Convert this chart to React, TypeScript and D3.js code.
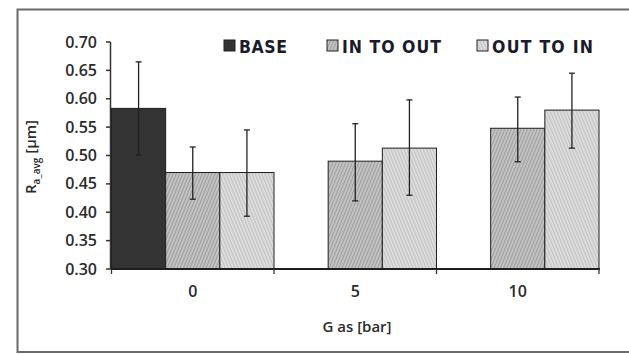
import React from "react";
import { scaleBand, scaleLinear, range } from "d3";

const categories = ["0", "5", "10"];
const seriesNames = ["BASE", "IN TO OUT", "OUT TO IN"];

const baseValues = [0.583, 0.3, 0.3];
const baseLow = [0.501, null, null];
const baseHigh = [0.665, null, null];

const inToOutValues = [0.47, 0.49, 0.548];
const inToOutLow = [0.423, 0.42, 0.489];
const inToOutHigh = [0.515, 0.556, 0.603];

const outToInValues = [0.47, 0.513, 0.58];
const outToInLow = [0.393, 0.43, 0.513];
const outToInHigh = [0.545, 0.598, 0.645];

const yTicks = [0.3, 0.35, 0.4, 0.45, 0.5, 0.55, 0.6, 0.65, 0.7];

const fills = ["#333333", "url(#hatchIn)", "url(#hatchOut)"];
const legendX = [224, 327, 477];
const legendWidths = [48, 99, 101];

const W = 629;
const H = 354;

const App = () => {
  const y = scaleLinear().domain([0.3, 0.7]).range([269, 42]);
  const x = scaleBand().domain(categories).range([111.5, 599]).padding(0);
  const xs = scaleBand()
    .domain(seriesNames)
    .range([0, x.bandwidth()])
    .padding(0);

  const values = [baseValues, inToOutValues, outToInValues];
  const lows = [baseLow, inToOutLow, outToInLow];
  const highs = [baseHigh, inToOutHigh, outToInHigh];

  const font = "'Open Sans', 'DejaVu Sans', sans-serif";
  const legendFont = "'DejaVu Sans Condensed', 'DejaVu Sans', sans-serif";

  return (
    <svg
      width={W}
      height={H}
      style={{ position: "absolute", left: 0, top: 0, background: "#fff" }}
    >
      <defs>
        <pattern
          id="hatchIn"
          width="3"
          height="3"
          patternUnits="userSpaceOnUse"
          patternTransform="rotate(22)"
        >
          <rect width="3" height="3" fill="#c2c2c2" />
          <line x1="0" y1="0" x2="0" y2="3" stroke="#868686" strokeWidth="1.2" />
        </pattern>
        <pattern
          id="hatchOut"
          width="3"
          height="3"
          patternUnits="userSpaceOnUse"
          patternTransform="rotate(-22)"
        >
          <rect width="3" height="3" fill="#dcdcdc" />
          <line x1="0" y1="0" x2="0" y2="3" stroke="#adadad" strokeWidth="1.1" />
        </pattern>
      </defs>

      <rect
        x={17.5}
        y={9.5}
        width={640}
        height={342.5}
        fill="none"
        stroke="#6a6a6a"
        strokeWidth={2}
      />

      {/* bars */}
      {seriesNames.map((s, si) =>
        categories.map((c, ci) => {
          const v = values[si][ci];
          const bx = (x(c) as number) + (xs(s) as number);
          const h = y(0.3) - y(v);
          if (h <= 0) return null;
          return (
            <rect
              key={s + c}
              x={bx}
              y={y(v)}
              width={xs.bandwidth()}
              height={h}
              fill={fills[si]}
              stroke="#1e1e1e"
              strokeWidth={1}
            />
          );
        })
      )}

      {/* error bars */}
      {seriesNames.map((s, si) =>
        categories.map((c, ci) => {
          const lo = lows[si][ci];
          const hi = highs[si][ci];
          if (lo == null || hi == null) return null;
          const cx = (x(c) as number) + (xs(s) as number) + xs.bandwidth() / 2;
          return (
            <g key={"e" + s + c} stroke="#222" strokeWidth={1.3}>
              <line x1={cx} x2={cx} y1={y(hi)} y2={y(lo)} />
              <line x1={cx - 3} x2={cx + 3} y1={y(hi)} y2={y(hi)} />
              <line x1={cx - 3} x2={cx + 3} y1={y(lo)} y2={y(lo)} />
            </g>
          );
        })
      )}

      {/* y axis */}
      <line x1={110.5} x2={110.5} y1={y(0.7)} y2={y(0.3)} stroke="#333" strokeWidth={1.5} />
      {yTicks.map((t) => (
        <g key={t}>
          <line x1={106} x2={110.5} y1={y(t)} y2={y(t)} stroke="#333" strokeWidth={1.5} />
          <text
            x={97}
            y={y(t)}
            dy="0.35em"
            textAnchor="end"
            fontFamily={font}
            fontWeight={600}
            fontSize={16}
            fill="#2a2a2a"
          >
            {t.toFixed(2)}
          </text>
        </g>
      ))}

      {/* x axis */}
      <line x1={110.5} x2={600} y1={y(0.3)} y2={y(0.3)} stroke="#1e1e1e" strokeWidth={2} />
      {range(categories.length + 1).map((i) => {
        const tx = i < categories.length ? (x(categories[i]) as number) : 599;
        return (
          <line
            key={"xt" + i}
            x1={tx}
            x2={tx}
            y1={y(0.3)}
            y2={y(0.3) + 5}
            stroke="#333"
            strokeWidth={1.3}
          />
        );
      })}
      {categories.map((c) => (
        <text
          key={"xl" + c}
          x={(x(c) as number) + x.bandwidth() / 2}
          y={297}
          textAnchor="middle"
          fontFamily={font}
          fontWeight={600}
          fontSize={16}
          fill="#2a2a2a"
        >
          {c}
        </text>
      ))}

      <text
        x={357}
        y={332}
        textAnchor="middle"
        fontFamily={font}
        fontWeight={600}
        fontSize={15}
        fill="#2a2a2a"
      >
        G as [bar]
      </text>

      <text
        transform="translate(36,157) rotate(-90)"
        textAnchor="middle"
        fontFamily={font}
        fontWeight={600}
        fontSize={15}
        fill="#2a2a2a"
      >
        R
        <tspan fontSize={10} dy={4}>a_avg</tspan>
        <tspan dy={-4}> [µm]</tspan>
      </text>

      {/* legend */}
      {seriesNames.map((s, i) => (
        <g key={"lg" + s}>
          <rect
            x={legendX[i]}
            y={40}
            width={11}
            height={11}
            fill={fills[i]}
            stroke="#222"
            strokeWidth={1}
          />
          <text
            x={legendX[i] + 15}
            y={52.5}
            fontFamily={legendFont}
            fontWeight={700}
            fontStretch="condensed"
            fontSize={17.5}
            fill="#1b1b2b"
            textLength={legendWidths[i]}
            lengthAdjust="spacing"
          >
            {s}
          </text>
        </g>
      ))}
    </svg>
  );
};

export default App;
